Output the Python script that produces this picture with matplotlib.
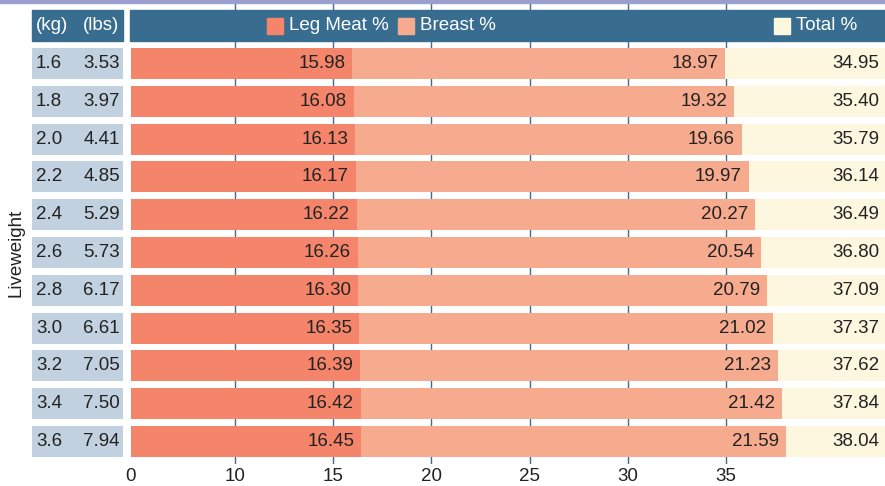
import matplotlib
matplotlib.use("Agg")
import matplotlib.pyplot as plt
import matplotlib.transforms as mtransforms
from matplotlib.patches import Rectangle

plt.rcParams['font.family'] = ['Liberation Sans', 'DejaVu Sans']

kg = [1.6, 1.8, 2.0, 2.2, 2.4, 2.6, 2.8, 3.0, 3.2, 3.4, 3.6]
lbs = [3.53, 3.97, 4.41, 4.85, 5.29, 5.73, 6.17, 6.61, 7.05, 7.50, 7.94]
leg = [15.98, 16.08, 16.13, 16.17, 16.22, 16.26, 16.30, 16.35, 16.39, 16.42, 16.45]
breast = [18.97, 19.32, 19.66, 19.97, 20.27, 20.54, 20.79, 21.02, 21.23, 21.42, 21.59]
total = [34.95, 35.40, 35.79, 36.14, 36.49, 36.80, 37.09, 37.37, 37.62, 37.84, 38.04]
series_names = ["Leg Meat %", "Breast %", "Total %"]
xticks = [10, 15, 20, 25, 30, 35]
table_headers = ["(kg)", "(lbs)"]
y_title = "Liveweight"

C_LEG = "#f4856a"
C_BREAST = "#f7ab8e"
C_TOTAL = "#fef7e0"
C_HEAD = "#386d8f"
C_CELL = "#c2d1df"
C_GRID = "#3d6d8e"
C_TXT = "#222222"
FS = 13.5

W, H = 885, 486
fig = plt.figure(figsize=(W / 100, H / 100), dpi=100)

def fx(px):
    return px / W

def fy(py):
    return 1 - py / H

top_px, bot_px = 4, 464
ax = fig.add_axes([fx(131), fy(bot_px), fx(885 - 131), (bot_px - top_px) / H])
ax_t = fig.add_axes([fx(32), fy(bot_px), fx(123 - 32), (bot_px - top_px) / H])

pitch = 37.8
c0 = 63.5
ylim = ((bot_px - c0) / pitch, (top_px - c0) / pitch)

n = len(kg)
ys = list(range(n))
cum = [l + b for l, b in zip(leg, breast)]

bh = 31 / pitch
ax.barh(ys, leg, left=0, height=bh, color=C_LEG, zorder=2)
ax.barh(ys, breast, left=leg, height=bh, color=C_BREAST, zorder=2)
ax.barh(ys, total, left=cum, height=bh, color=C_TOTAL, zorder=2)

# x scale calibrated so ticks match reference
px_per = 19.66
origin_px = 38
xmin = (131 - origin_px) / px_per
xmax = (885 - origin_px) / px_per
ax.set_xlim(xmin, xmax)
ax.set_ylim(*ylim)
ax.set_xticks([xmin] + xticks)
ax.set_xticklabels(["0"] + [str(t) for t in xticks])
ax.tick_params(axis='x', length=0, pad=3, labelsize=FS, labelcolor=C_TXT)
ax.tick_params(axis='y', left=False, labelleft=False)
for s in ax.spines.values():
    s.set_visible(False)
ax.set_facecolor('none')
for t in xticks:
    ax.axvline(t, color=C_GRID, lw=1, zorder=1)

trans = mtransforms.blended_transform_factory(ax.transAxes, ax.transData)
for i in range(n):
    ax.annotate(f"{leg[i]:.2f}", (leg[i], i), xytext=(-5, 0), textcoords='offset points',
                ha='right', va='center', fontsize=FS, color=C_TXT, zorder=3)
    ax.annotate(f"{breast[i]:.2f}", (cum[i], i), xytext=(-5, 0), textcoords='offset points',
                ha='right', va='center', fontsize=FS, color=C_TXT, zorder=3)
    ax.text((879 - 131) / (885 - 131), i, f"{total[i]:.2f}", transform=trans,
            ha='right', va='center', fontsize=FS, color=C_TXT, zorder=3)

# left table
ax_t.barh(ys, [1] * n, left=0, height=bh, color=C_CELL)
ax_t.set_xlim(0, 1)
ax_t.set_ylim(*ylim)
ax_t.axis('off')
tt = mtransforms.blended_transform_factory(ax_t.transAxes, ax_t.transData)
for i in range(n):
    ax_t.text(4 / 91, i, f"{kg[i]:.1f}", transform=tt, ha='left', va='center', fontsize=FS, color=C_TXT)
    ax_t.text(88 / 91, i, f"{lbs[i]:.2f}", transform=tt, ha='right', va='center', fontsize=FS, color=C_TXT)

# top band
fig.patches.append(Rectangle((0, fy(3)), 1, fy(0) - fy(3), transform=fig.transFigure,
                             color="#9b9fcf", zorder=5))
# header
hy0, hy1 = 10, 41
fig.patches.append(Rectangle((fx(32), fy(hy1)), fx(123 - 32), (hy1 - hy0) / H,
                             transform=fig.transFigure, color=C_HEAD, zorder=5))
fig.patches.append(Rectangle((fx(130), fy(hy1)), fx(885 - 130), (hy1 - hy0) / H,
                             transform=fig.transFigure, color=C_HEAD, zorder=5))
hyc = fy((hy0 + hy1) / 2 + 0.5)
fig.text(fx(36), hyc, table_headers[0], ha='left', va='center', color='white', fontsize=FS, zorder=6)
fig.text(fx(119), hyc, table_headers[1], ha='right', va='center', color='white', fontsize=FS, zorder=6)

legend_cols = [C_LEG, C_BREAST, C_TOTAL]
legend_x = [267, 398, 774]
for name, col, lx in zip(series_names, legend_cols, legend_x):
    fig.patches.append(Rectangle((fx(lx), fy(34)), fx(16), 16 / H, transform=fig.transFigure,
                                 color=col, zorder=6))
    fig.text(fx(lx + 22), hyc, name, ha='left', va='center', color='white', fontsize=FS, zorder=7)

fig.text(fx(16), fy(253), y_title, rotation=90, ha='center', va='center', fontsize=FS, color=C_TXT)

fig.savefig("out.png", dpi=100)
